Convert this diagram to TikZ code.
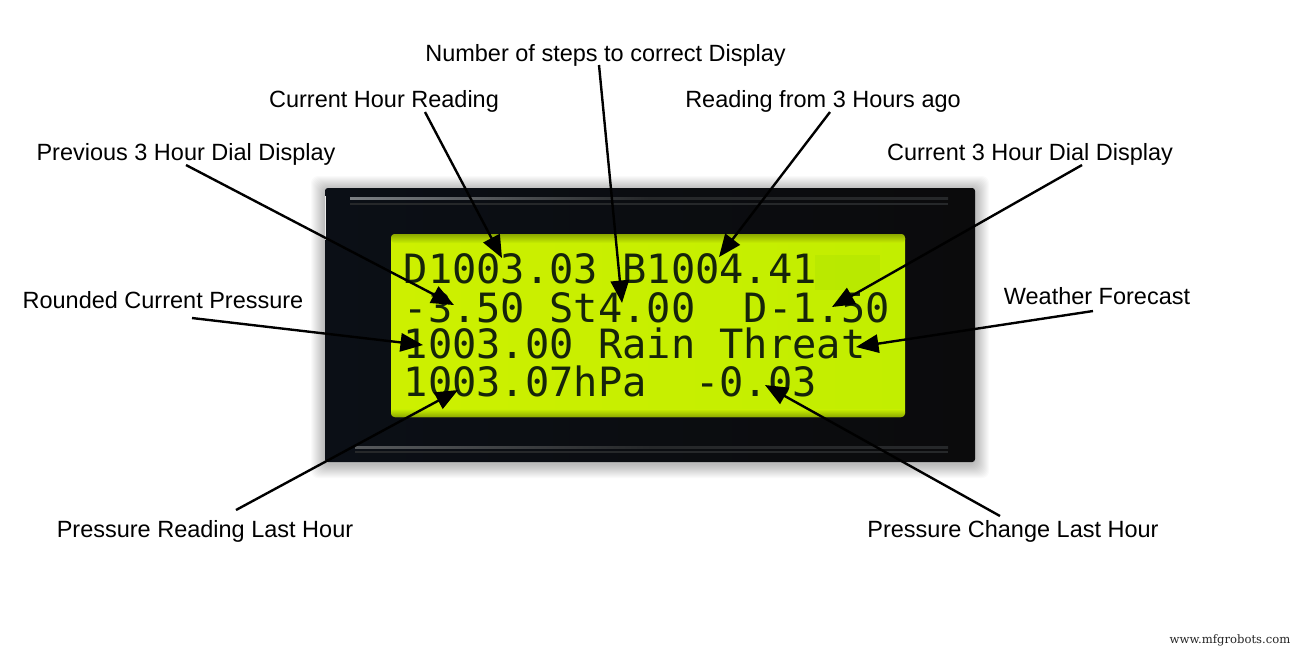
\documentclass[tikz,border=0pt]{standalone}
\usepackage{fontspec}
\usepackage{tikz}
\usetikzlibrary{arrows.meta}
\setmainfont{Liberation Sans}
\newfontfamily\lcdfont{DejaVu Sans Mono}
\newfontfamily\webfont{DejaVu Serif}
\definecolor{lcdleft}{HTML}{CDF000}
\definecolor{lcdright}{HTML}{C2EE00}
\definecolor{lcdedge}{HTML}{8DA800}
\definecolor{lcdpatch}{HTML}{A4E000}
\definecolor{lcdink}{HTML}{16240A}
\definecolor{bodyleft}{HTML}{0B0F16}
\definecolor{bodyright}{HTML}{0B0B0C}
\definecolor{raillight}{HTML}{7C8084}
\definecolor{raildark}{HTML}{26282A}
\tikzset{
	lbl/.style={font=\fontsize{6.68}{8}\selectfont, text=black, inner sep=0.5pt},
	row/.style={font=\lcdfont\fontsize{11.48}{12}\selectfont, text=lcdink, anchor=base west, inner sep=0pt},
	callout/.style={draw=black, line width=0.68pt, -{Triangle[length=6.4pt, width=5.2pt]}}
}

\begin{document}
\begin{tikzpicture}[x=0.01cm, y=-0.01cm]
\useasboundingbox (0,0) rectangle (1300,650);
\fill[white] (0,0) rectangle (1300,650);

% shadow and body of the module
\foreach \s in {1,...,14}{
	\fill[black, opacity=0.02, rounded corners=2pt] (325-\s,190-\s) rectangle (975+\s,464+\s);
}
\shade[left color=bodyleft, right color=bodyright, rounded corners=0.8pt] (325,188) rectangle (975,462);
\draw[white!85!gray, line width=0.5pt] (325.5,196) -- (325.5,240);

% rails
\shade[left color=raillight, right color=raildark, middle color=raildark] (350,197) rectangle (948,199);
\fill[raildark] (350,203) rectangle (948,205);
\shade[left color=raillight!70!black, right color=raildark, middle color=raildark] (355,446) rectangle (948,448);
\fill[raildark] (355,451) rectangle (948,453);

% display
\shade[left color=lcdleft, right color=lcdright, rounded corners=1.2pt] (391,234) rectangle (905,417);
\shade[top color=lcdedge, bottom color=lcdleft!50!lcdright, rounded corners=1pt] (391,234) rectangle (905,243);
\shade[top color=lcdleft!50!lcdright, bottom color=lcdedge, rounded corners=1pt] (391,409) rectangle (905,417);
\fill[lcdpatch, opacity=0.3] (815,255) rectangle (880,290);

\node[row] (rowa) at (403,283) {D1003.03 B1004.41};
\node[row] (rowb) at (403,322) {-3.50 St4.00~~D-1.50};
\node[row] (rowc) at (403,358) {1003.00 Rain Threat};
\node[row] (rowd) at (403,396) {1003.07hPa~~-0.03};

% labels
\node[lbl] (steps) at (605.5,55) {Number of steps to correct Display};
\node[lbl] (hour) at (384,101) {Current Hour Reading};
\node[lbl] (ago) at (823,101) {Reading from 3 Hours ago};
\node[lbl] (prevdial) at (186,154) {Previous 3 Hour Dial Display};
\node[lbl] (curdial) at (1030,154) {Current 3 Hour Dial Display};
\node[lbl] (rounded) at (163,300) {Rounded Current Pressure};
\node[lbl] (forecast) at (1097,296) {Weather Forecast};
\node[lbl] (lasthour) at (205,531) {Pressure Reading Last Hour};
\node[lbl] (change) at (1013,531) {Pressure Change Last Hour};

\node[font=\webfont\fontsize{3.3}{4}\selectfont, text=black!85, inner sep=0pt] (site) at (1230,640) {www.mfgrobots.com};

% where the arrows point
\coordinate (Tsteps) at (622,303);
\coordinate (Thour) at (502,258);
\coordinate (Tago) at (719,257);
\coordinate (Tprev) at (454,305);
\coordinate (Tcur) at (832,307);
\coordinate (Trounded) at (423,345);
\coordinate (Tforecast) at (856,347);
\coordinate (Tlast) at (458,390);
\coordinate (Tchange) at (765,385);

\draw[callout] ([shift={(-6.5,10)}]steps.center) -- (Tsteps);
\draw[callout] ([shift={(41,11)}]hour.center) -- (Thour);
\draw[callout] ([shift={(7,11)}]ago.center) -- (Tago);
\draw[callout] ([shift={(0,11)}]prevdial.center) -- (Tprev);
\draw[callout] ([shift={(52,11)}]curdial.center) -- (Tcur);
\draw[callout] ([shift={(29,18)}]rounded.center) -- (Trounded);
\draw[callout] ([shift={(-4,15)}]forecast.center) -- (Tforecast);
\draw[callout] ([shift={(31,-21)}]lasthour.center) -- (Tlast);
\draw[callout] ([shift={(-13,-15)}]change.center) -- (Tchange);
\end{tikzpicture}
\end{document}
